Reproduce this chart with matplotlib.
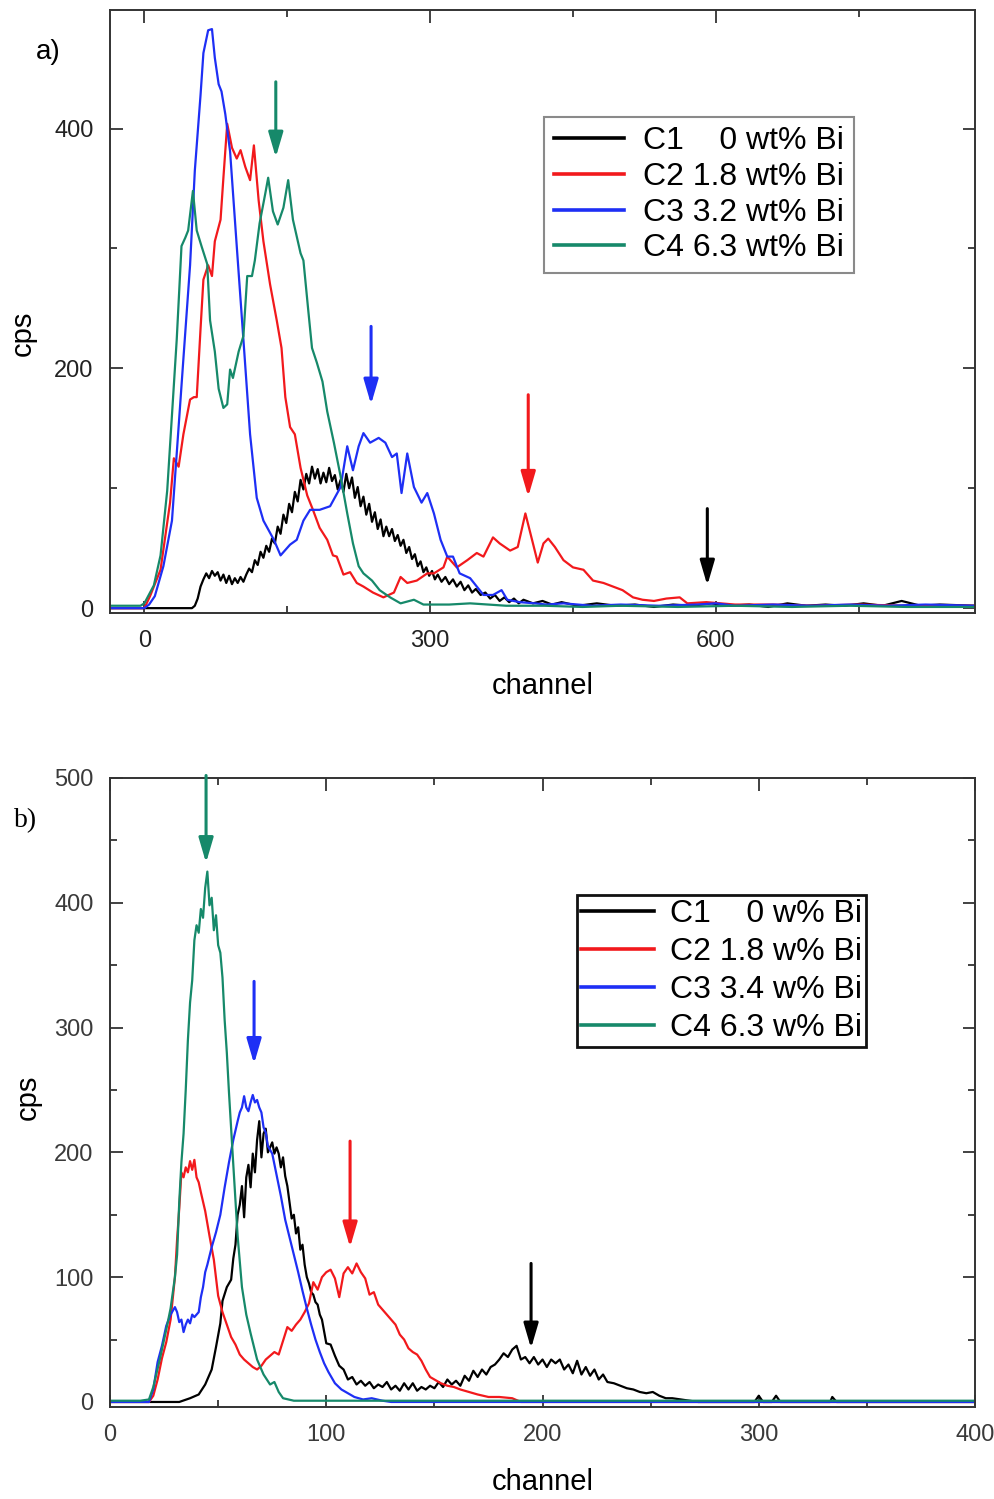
import matplotlib.pyplot as plt
from matplotlib.ticker import MultipleLocator

plt.rcParams['font.family'] = ['Liberation Sans', 'DejaVu Sans']

BLACK = '#000000'
RED = '#f2191c'
BLUE = '#1e2ff5'
GREEN = '#16896a'

# ---------------- panel a) spectra (channel, cps) ----------------
a_c1_x = [-36, 50, 53, 56, 59, 62, 65, 68, 71, 74,
          77, 80, 83, 86, 89, 92, 95, 98, 101, 104,
          107, 110, 113, 116, 119, 122, 125, 128, 131, 134,
          137, 140, 143, 146, 149, 152, 155, 158, 161, 164,
          167, 170, 173, 176, 179, 182, 185, 188, 191, 194,
          197, 200, 203, 206, 209, 212, 215, 218, 221, 224,
          227, 230, 233, 236, 239, 242, 245, 248, 251, 254,
          257, 260, 263, 266, 269, 272, 275, 278, 281, 284,
          287, 290, 293, 296, 299, 302, 305, 308, 312, 316,
          320, 324, 328, 332, 336, 340, 344, 348, 353, 358,
          363, 368, 373, 378, 383, 388, 393, 398, 408, 418,
          428, 438, 455, 475, 495, 515, 535, 555, 575, 595,
          615, 635, 655, 675, 695, 715, 735, 755, 775, 795,
          815, 835, 872]
a_c1_y = [0, 0, 2, 8, 18, 24, 29, 25, 31, 27,
          30, 23, 28, 21, 27, 20, 25, 21, 26, 22,
          28, 33, 30, 40, 36, 47, 42, 52, 47, 58,
          54, 68, 62, 78, 71, 87, 80, 97, 89, 107,
          99, 112, 104, 118, 108, 116, 104, 113, 105, 117,
          106, 111, 99, 107, 97, 112, 100, 109, 92, 101,
          85, 93, 78, 87, 72, 80, 66, 74, 60, 68,
          60, 66, 56, 61, 52, 57, 46, 51, 41, 45,
          35, 39, 30, 34, 27, 31, 24, 28, 22, 26,
          20, 24, 18, 22, 15, 19, 13, 16, 11, 13,
          8, 11, 6, 9, 5, 8, 4, 7, 4, 6,
          3, 5, 2, 4, 2, 3, 1, 3, 2, 4,
          2, 3, 1, 4, 2, 3, 2, 4, 2, 6,
          2, 3, 2]

a_c2_x = [-36, 0, 6, 17, 27, 31, 36, 41, 48, 52,
          55, 59, 62, 67, 71, 74, 80, 83, 87, 92,
          97, 101, 106, 111, 115, 120, 125, 132, 139, 144,
          148, 153, 158, 164, 171, 177, 184, 192, 198, 202,
          209, 216, 223, 230, 240, 251, 262, 269, 276, 286,
          297, 304, 314, 318, 328, 339, 349, 356, 361, 366,
          373, 384, 392, 400, 407, 413, 419, 424, 431, 440,
          450, 461, 471, 482, 492, 502, 513, 523, 535, 548,
          562, 570, 590, 620, 660, 700, 750, 800, 872]
a_c2_y = [0, 0, 10, 32, 88, 125, 118, 145, 174, 176,
          176, 233, 274, 286, 277, 306, 324, 359, 404, 384,
          375, 382, 368, 357, 386, 340, 306, 270, 240, 217,
          176, 151, 145, 117, 94, 82, 67, 57, 44, 43,
          28, 30, 21, 18, 13, 9, 13, 26, 21, 23,
          29, 29, 34, 43, 34, 40, 46, 43, 51, 59,
          54, 48, 51, 79, 57, 38, 54, 58, 51, 40,
          34, 32, 23, 21, 18, 15, 9, 7, 6, 8,
          9, 4, 5, 3, 3, 2, 3, 2, 2]

a_c3_x = [-36, 0, 5, 11, 20, 29, 34, 41, 48, 53,
          59, 62, 67, 71, 74, 78, 81, 85, 90, 97,
          104, 111, 118, 125, 136, 143, 153, 160, 167, 174,
          184, 195, 206, 213, 219, 225, 230, 237, 246, 253,
          260, 265, 270, 276, 283, 291, 297, 304, 311, 318,
          324, 331, 342, 349, 356, 366, 375, 381, 394, 410,
          422, 440, 470, 500, 540, 580, 600, 620, 660, 700,
          740, 780, 820, 872]
a_c3_y = [0, 0, 3, 10, 35, 73, 129, 208, 286, 365,
          428, 463, 482, 483, 459, 437, 431, 412, 381, 302,
          224, 145, 92, 73, 57, 44, 53, 57, 73, 82,
          82, 85, 101, 135, 115, 135, 146, 138, 142, 138,
          126, 129, 96, 129, 101, 88, 96, 79, 57, 43,
          43, 29, 25, 18, 11, 11, 15, 7, 5, 4,
          3, 4, 2, 3, 2, 3, 4, 2, 3, 2,
          3, 2, 3, 2]

a_c4_x = [-36, -4, 0, 10, 17, 24, 29, 34, 39, 43,
          46, 51, 55, 60, 66, 69, 74, 78, 83, 87,
          90, 93, 99, 104, 108, 113, 116, 121, 127, 130,
          135, 140, 146, 151, 156, 164, 167, 172, 176, 181,
          187, 192, 199, 206, 213, 219, 225, 230, 239, 247,
          258, 269, 283, 293, 320, 342, 380, 420, 460, 500,
          560, 620, 680, 740, 800, 872]
a_c4_y = [2, 2, 4, 19, 44, 98, 161, 224, 302, 309,
          315, 348, 315, 302, 287, 240, 214, 183, 167, 170,
          199, 192, 214, 227, 277, 277, 290, 321, 346, 359,
          331, 320, 334, 357, 324, 296, 290, 249, 217, 205,
          189, 164, 138, 110, 79, 54, 35, 29, 23, 15,
          9, 4, 7, 3, 3, 4, 2, 2, 1, 2,
          1, 2, 1, 2, 1, 1]

a_labels = ['C1    0 wt% Bi', 'C2 1.8 wt% Bi', 'C3 3.2 wt% Bi', 'C4 6.3 wt% Bi']
# arrows: channel, start cps, tip cps
a_arrows = [(138, 439, 376, GREEN), (238, 235, 170, BLUE),
            (403, 178, 93, RED), (591, 83, 19, BLACK)]

# ---------------- panel b) spectra (channel, cps) ----------------
b_c1_x = [0, 32, 37, 41, 44, 47, 49, 51, 52, 54,
          56, 57, 58, 59, 60, 61, 62, 63, 64, 65,
          66, 67, 68, 69, 70, 71, 72, 73, 74, 75,
          76, 77, 78, 79, 80, 81, 82, 83, 84, 85,
          86, 87, 88, 89, 90, 91, 92, 93, 94, 95,
          96, 97, 98, 100, 102, 104, 106, 108, 110, 112,
          114, 116, 118, 120, 122, 124, 126, 128, 130, 132,
          134, 136, 138, 140, 142, 144, 146, 148, 150, 152,
          154, 156, 158, 160, 162, 164, 166, 168, 170, 172,
          174, 176, 178, 180, 182, 184, 186, 188, 190, 192,
          194, 196, 198, 200, 202, 204, 206, 208, 210, 212,
          214, 216, 218, 220, 222, 224, 226, 228, 230, 233,
          236, 239, 242, 245, 248, 251, 254, 257, 260, 264,
          268, 272, 276, 298, 300, 302, 306, 308, 310, 333,
          334, 336, 400]
b_c1_y = [0, 0, 3, 6, 14, 26, 44, 63, 81, 92,
          98, 115, 126, 150, 158, 173, 148, 180, 190, 172,
          199, 184, 210, 225, 196, 215, 219, 200, 204, 208,
          199, 204, 199, 188, 196, 181, 173, 160, 147, 150,
          135, 140, 122, 126, 110, 100, 95, 88, 86, 80,
          78, 70, 66, 47, 46, 37, 29, 26, 18, 20,
          14, 17, 13, 16, 11, 14, 12, 16, 10, 13,
          9, 15, 10, 15, 9, 12, 10, 13, 11, 16,
          12, 18, 14, 17, 13, 21, 17, 25, 20, 26,
          22, 28, 30, 34, 39, 36, 42, 45, 34, 36,
          31, 36, 30, 34, 28, 34, 31, 34, 26, 30,
          23, 33, 22, 28, 21, 26, 18, 22, 16, 15,
          13, 11, 10, 8, 7, 8, 5, 3, 3, 2,
          1, 0, 0, 0, 5, 0, 0, 5, 0, 0,
          4, 0, 0]

b_c2_x = [0, 18, 20, 22, 24, 26, 28, 30, 31, 32,
          33, 34, 35, 36, 37, 38, 39, 40, 41, 42,
          44, 46, 48, 50, 52, 54, 56, 58, 60, 62,
          64, 66, 68, 70, 72, 74, 76, 78, 80, 82,
          84, 86, 88, 90, 92, 94, 96, 98, 100, 102,
          104, 106, 108, 110, 112, 114, 116, 118, 120, 122,
          124, 126, 128, 130, 132, 134, 136, 138, 140, 142,
          144, 146, 148, 150, 153, 156, 159, 162, 166, 170,
          175, 180, 186, 190, 400]
b_c2_y = [0, 0, 5, 18, 35, 48, 66, 100, 130, 155,
          184, 180, 188, 184, 193, 186, 194, 180, 176, 168,
          153, 133, 114, 85, 72, 62, 52, 46, 38, 34,
          31, 28, 26, 29, 34, 37, 40, 38, 49, 60,
          57, 62, 66, 72, 79, 96, 90, 100, 104, 106,
          99, 84, 103, 108, 103, 111, 104, 99, 86, 88,
          78, 74, 70, 66, 62, 54, 50, 43, 40, 38,
          33, 26, 20, 18, 15, 13, 12, 10, 8, 6,
          4, 4, 3, 0, 0]

b_c3_x = [0, 18, 20, 22, 24, 26, 28, 30, 31, 32,
          33, 34, 35, 36, 37, 38, 39, 41, 42, 43,
          44, 45, 47, 49, 51, 53, 55, 57, 59, 60,
          61, 62, 63, 64, 65, 66, 67, 68, 69, 70,
          71, 72, 73, 75, 77, 79, 81, 83, 85, 87,
          89, 91, 93, 95, 97, 99, 101, 104, 107, 110,
          113, 117, 121, 126, 130, 400]
b_c3_y = [0, 0, 10, 32, 45, 61, 70, 76, 72, 64,
          66, 56, 62, 66, 63, 70, 68, 72, 84, 92,
          104, 110, 124, 136, 150, 172, 192, 210, 225, 232,
          236, 245, 236, 233, 240, 246, 240, 242, 236, 232,
          220, 216, 205, 199, 182, 165, 146, 132, 118, 104,
          89, 75, 62, 50, 40, 31, 24, 15, 10, 7,
          4, 2, 3, 1, 0, 0]

b_c4_x = [0, 14, 18, 20, 23, 26, 28, 30, 31, 32,
          33, 34, 35, 36, 37, 38, 39, 40, 41, 42,
          43, 44, 45, 46, 47, 48, 49, 50, 51, 52,
          53, 54, 55, 57, 59, 61, 63, 65, 68, 71,
          74, 76, 78, 80, 85, 400]
b_c4_y = [1, 1, 2, 12, 34, 58, 75, 100, 118, 160,
          192, 215, 250, 290, 320, 338, 370, 382, 376, 395,
          388, 412, 425, 398, 404, 378, 390, 366, 360, 340,
          306, 280, 248, 190, 133, 92, 70, 55, 34, 22,
          14, 16, 8, 3, 1, 1]

b_labels = ['C1    0 w% Bi', 'C2 1.8 w% Bi', 'C3 3.4 w% Bi', 'C4 6.3 w% Bi']
b_arrows = [(44.4, 502, 432, GREEN), (66.6, 337, 271, BLUE),
            (111, 209, 124, RED), (194.7, 111, 43, BLACK)]

SPINE = '#333333'


def style_axes(ax, xmaj, xmin, ymaj, ymin, tick_color):
    for s in ax.spines.values():
        s.set_color(SPINE)
        s.set_linewidth(1.4)
    ax.xaxis.set_major_locator(MultipleLocator(xmaj))
    ax.xaxis.set_minor_locator(MultipleLocator(xmin))
    ax.yaxis.set_major_locator(MultipleLocator(ymaj))
    ax.yaxis.set_minor_locator(MultipleLocator(ymin))
    ax.tick_params(which='both', direction='in', top=True, right=True,
                   color=SPINE, width=1.3, labelsize=17, labelcolor=tick_color)
    ax.tick_params(which='major', length=9, pad=12)
    ax.tick_params(which='minor', length=5)


def draw_arrows(ax, arrows):
    for x, y0, y1, c in arrows:
        ax.annotate('', xy=(x, y1), xytext=(x, y0), annotation_clip=False,
                    arrowprops=dict(arrowstyle='-|>,head_length=0.75,head_width=0.22',
                                    color=c, lw=2.2, shrinkA=0, shrinkB=0,
                                    mutation_scale=20))


fig = plt.figure(figsize=(9.95, 14.99), dpi=100)
ax_a = fig.add_axes([0.1106, 0.5911, 0.8693, 0.4023])
ax_b = fig.add_axes([0.1106, 0.0614, 0.8693, 0.4196])

# panel a
series_a = [(a_c1_x, a_c1_y, BLACK), (a_c2_x, a_c2_y, RED),
            (a_c3_x, a_c3_y, BLUE), (a_c4_x, a_c4_y, GREEN)]
for (x, y, c), lab in zip(series_a, a_labels):
    ax_a.plot(x, y, color=c, lw=1.6, label=lab)
ax_a.set_xlim(-36, 872)
ax_a.set_ylim(-4, 499)
style_axes(ax_a, 300, 150, 200, 100, '#222222')
draw_arrows(ax_a, a_arrows)
ax_a.set_xlabel('channel', fontsize=21)
ax_a.xaxis.set_label_coords(0.5, -0.098)
ax_a.set_ylabel('cps', fontsize=21)
ax_a.yaxis.set_label_coords(-0.085, 0.464)
leg_a = ax_a.legend(loc='upper left', bbox_to_anchor=(0.502, 0.823), fontsize=23,
                    fancybox=False, borderpad=0.3, labelspacing=0.18,
                    handlelength=2.2, handletextpad=0.6, borderaxespad=0,
                    framealpha=1)
leg_a.get_frame().set_edgecolor('#8a8a8a')
leg_a.get_frame().set_linewidth(1.5)
for h in leg_a.get_lines():
    h.set_linewidth(2.6)

# panel b
series_b = [(b_c1_x, b_c1_y, BLACK), (b_c2_x, b_c2_y, RED),
            (b_c3_x, b_c3_y, BLUE), (b_c4_x, b_c4_y, GREEN)]
for (x, y, c), lab in zip(series_b, b_labels):
    ax_b.plot(x, y, color=c, lw=1.6, label=lab)
ax_b.set_xlim(0, 400)
ax_b.set_ylim(-4, 500)
style_axes(ax_b, 100, 50, 100, 50, '#3a3a3a')
draw_arrows(ax_b, b_arrows)
ax_b.set_xlabel('channel', fontsize=21)
ax_b.xaxis.set_label_coords(0.5, -0.097)
ax_b.set_ylabel('cps', fontsize=21)
ax_b.yaxis.set_label_coords(-0.079, 0.493)
leg_b = ax_b.legend(loc='upper left', bbox_to_anchor=(0.540, 0.814), fontsize=23,
                    fancybox=False, borderpad=0.12, labelspacing=0.25,
                    handlelength=2.3, handletextpad=0.5, borderaxespad=0,
                    framealpha=1)
leg_b.get_frame().set_edgecolor('#111111')
leg_b.get_frame().set_linewidth(2.0)
for h in leg_b.get_lines():
    h.set_linewidth(2.6)

fig.text(48 / 995, 1 - 52 / 1499, 'a)', fontsize=20, ha='center', va='center')
fig.text(26 / 995, 1 - 821 / 1499, 'b)', fontsize=20, ha='center', va='center',
         family=['Liberation Serif', 'DejaVu Serif'])

fig.savefig('out.png', dpi=100)
